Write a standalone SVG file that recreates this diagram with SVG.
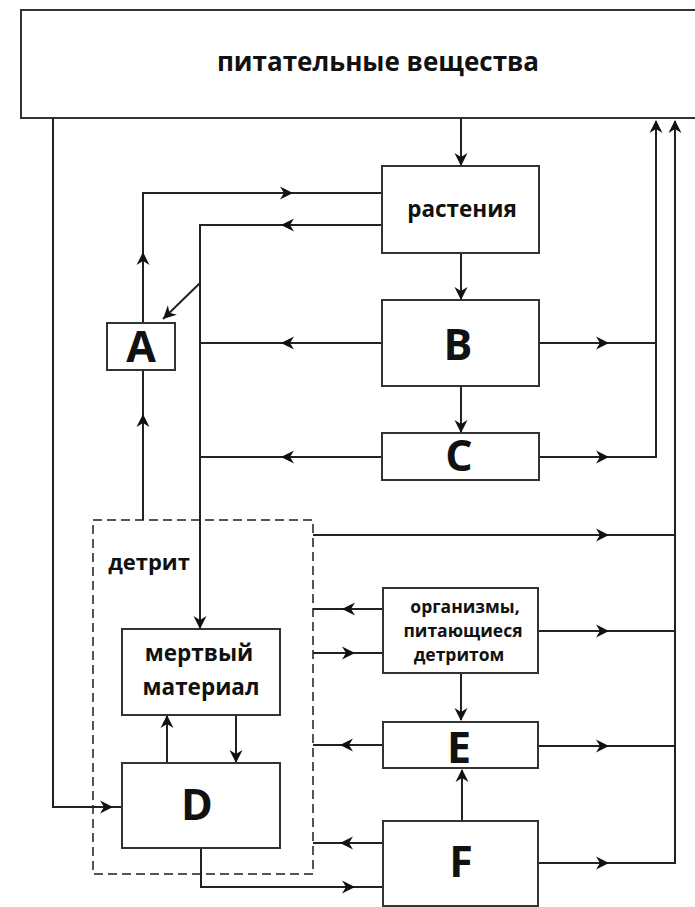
<svg xmlns="http://www.w3.org/2000/svg" xmlns:xlink="http://www.w3.org/1999/xlink" width="695" height="907" viewBox="0 0 695 907">
<style>
.box{fill:#fff;stroke:#333;stroke-width:2}
.dash{fill:none;stroke:#555;stroke-width:2;stroke-dasharray:9 5}
.ln{fill:none;stroke:#222;stroke-width:2}
.ah{fill:#111}
.t{font-family:"Open Sans","Liberation Sans",sans-serif;font-weight:bold;fill:#111;text-anchor:middle}
.big{font-size:43px}
</style>
<defs>
<path id="ah" d="M0,0 L-13,-6.5 L-9,0 L-13,6.5 Z"/>
</defs>
<rect width="695" height="907" fill="#fff"/>

<g id="nutrients">
<rect class="box" x="21" y="10" width="700" height="108"/>
<text class="t" x="378" y="71" font-size="26">питательные вещества</text>
</g>

<g id="detritus">
<rect class="dash" x="93" y="520" width="220" height="354"/>
<text class="t" x="149" y="570" font-size="22">детрит</text>
</g>

<g id="connectors">
<path class="ln" d="M461,118 V165"/>
<path class="ln" d="M143,323 V193 H382"/>
<path class="ln" d="M382,225 H200 V628"/>
<path class="ln" d="M200,283 L163,319"/>
<path class="ln" d="M461,253 V299"/>
<path class="ln" d="M382,343 H200"/>
<path class="ln" d="M540,343 H656"/>
<path class="ln" d="M461,386 V432"/>
<path class="ln" d="M382,457 H200"/>
<path class="ln" d="M540,457 H656 V121"/>
<path class="ln" d="M538,863 H675 V121"/>
<path class="ln" d="M313,535 H675"/>
<path class="ln" d="M383,609 H313"/>
<path class="ln" d="M313,653 H383"/>
<path class="ln" d="M538,631 H675"/>
<path class="ln" d="M461,673 V720"/>
<path class="ln" d="M383,745 H313"/>
<path class="ln" d="M538,746 H675"/>
<path class="ln" d="M462,821 V770"/>
<path class="ln" d="M383,843 H313"/>
<path class="ln" d="M201,848 V887 H382"/>
<path class="ln" d="M53,118 V807 H121"/>
<path class="ln" d="M143,370 V520"/>
<path class="ln" d="M167,763 V716"/>
<path class="ln" d="M236,715 V762"/>
<g class="ah">
<use xlink:href="#ah" transform="translate(461,166) rotate(90)"/>
<use xlink:href="#ah" transform="translate(143,252) rotate(-90)"/>
<use xlink:href="#ah" transform="translate(293,193)"/>
<use xlink:href="#ah" transform="translate(281,225) rotate(180)"/>
<use xlink:href="#ah" transform="translate(200,629) rotate(90)"/>
<use xlink:href="#ah" transform="translate(163,319) rotate(136)"/>
<use xlink:href="#ah" transform="translate(461,300) rotate(90)"/>
<use xlink:href="#ah" transform="translate(281,343) rotate(180)"/>
<use xlink:href="#ah" transform="translate(609,343)"/>
<use xlink:href="#ah" transform="translate(461,433) rotate(90)"/>
<use xlink:href="#ah" transform="translate(281,457) rotate(180)"/>
<use xlink:href="#ah" transform="translate(609,457)"/>
<use xlink:href="#ah" transform="translate(656,120) rotate(-90)"/>
<use xlink:href="#ah" transform="translate(675,120) rotate(-90)"/>
<use xlink:href="#ah" transform="translate(609,535)"/>
<use xlink:href="#ah" transform="translate(342,609) rotate(180)"/>
<use xlink:href="#ah" transform="translate(355,653)"/>
<use xlink:href="#ah" transform="translate(609,631)"/>
<use xlink:href="#ah" transform="translate(461,721) rotate(90)"/>
<use xlink:href="#ah" transform="translate(340,745) rotate(180)"/>
<use xlink:href="#ah" transform="translate(609,746)"/>
<use xlink:href="#ah" transform="translate(462,769) rotate(-90)"/>
<use xlink:href="#ah" transform="translate(340,843) rotate(180)"/>
<use xlink:href="#ah" transform="translate(609,863)"/>
<use xlink:href="#ah" transform="translate(355,887)"/>
<use xlink:href="#ah" transform="translate(113,807)"/>
<use xlink:href="#ah" transform="translate(143,414) rotate(-90)"/>
<use xlink:href="#ah" transform="translate(167,715) rotate(-90)"/>
<use xlink:href="#ah" transform="translate(236,763) rotate(90)"/>
</g>
</g>

<g id="plants">
<rect class="box" x="382" y="166" width="157" height="87"/>
<text class="t" x="462" y="217" font-size="22.5">растения</text>
</g>
<g id="A">
<rect class="box" x="107" y="323" width="68" height="47"/>
<text class="t big" x="141" y="362">A</text>
</g>
<g id="B">
<rect class="box" x="382" y="300" width="157" height="86"/>
<text class="t big" x="458" y="360">B</text>
</g>
<g id="C">
<rect class="box" x="382" y="433" width="157" height="47"/>
<text class="t big" x="459" y="471">C</text>
</g>
<g id="detritivores">
<rect class="box" x="383" y="588" width="155" height="85"/>
<text class="t" x="465" y="613" font-size="17.5">организмы,</text>
<text class="t" x="463" y="637" font-size="17.5">питающиеся</text>
<text class="t" x="459" y="661" font-size="17.5">детритом</text>
</g>
<g id="dead-material">
<rect class="box" x="122" y="629" width="158" height="86"/>
<text class="t" x="199" y="661" font-size="22.5">мертвый</text>
<text class="t" x="201" y="695" font-size="22.5">материал</text>
</g>
<g id="D">
<rect class="box" x="122" y="763" width="158" height="85"/>
<text class="t big" x="197" y="820">D</text>
</g>
<g id="E">
<rect class="box" x="383" y="722" width="155" height="46"/>
<text class="t big" x="459" y="763">E</text>
</g>
<g id="F">
<rect class="box" x="383" y="821" width="155" height="85"/>
<text class="t big" x="461" y="877">F</text>
</g>
</svg>
